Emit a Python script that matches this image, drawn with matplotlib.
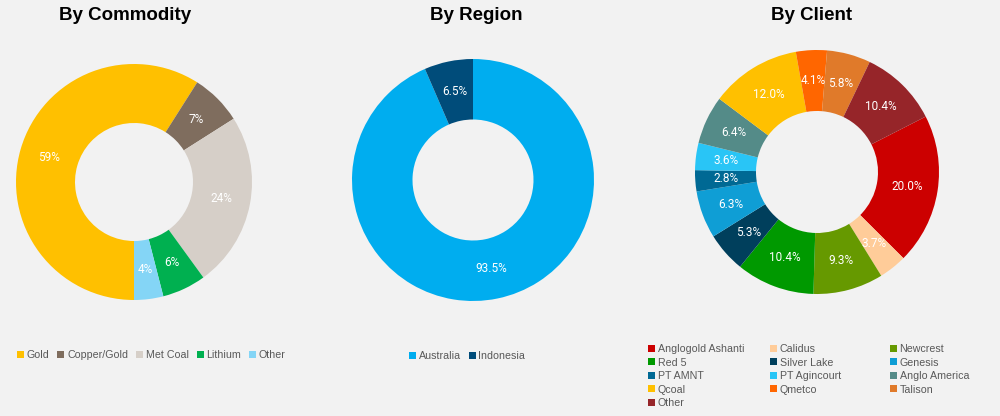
import matplotlib.pyplot as plt
from matplotlib.patches import Patch

# data
commodity_labels = ['Gold', 'Copper/Gold', 'Met Coal', 'Lithium', 'Other']
commodity_values = [59, 7, 24, 6, 4]
commodity_colors = ['#FFC000', '#7F6D5E', '#D6CFC8', '#00B050', '#84D5F6']

region_labels = ['Australia', 'Indonesia']
region_values = [93.5, 6.5]
region_colors = ['#00ADEF', '#004C7A']

client_labels = ['Anglogold Ashanti', 'Calidus', 'Newcrest', 'Red 5', 'Silver Lake',
                 'Genesis', 'PT AMNT', 'PT Agincourt', 'Anglo America', 'Qcoal',
                 'Qmetco', 'Talison', 'Other']
client_values = [20.0, 3.7, 9.3, 10.4, 5.3, 6.3, 2.8, 3.6, 6.4, 12.0, 4.1, 5.8, 10.4]
client_colors = ['#CC0000', '#FFCC99', '#669900', '#009900', '#003F5C', '#0F9ED5',
                 '#006994', '#29C5F6', '#548B88', '#FFC000', '#FF6600', '#E07A2A',
                 '#962529']

W, H = 1000, 416
bg = '#F2F2F2'
txt = '#595959'
plt.rcParams['font.family'] = ['Liberation Sans', 'DejaVu Sans']

fig = plt.figure(figsize=(W / 100, H / 100), dpi=100, facecolor=bg)


def donut(cx, cy, r, values, colors, start, fmt):
    ax = fig.add_axes([(cx - r) / W, (H - cy - r) / H, 2 * r / W, 2 * r / H])
    ax.set_facecolor(bg)
    ax.pie(values, colors=colors, startangle=start, counterclock=False,
           radius=1, autopct=fmt, pctdistance=0.75,
           wedgeprops=dict(width=0.5, edgecolor='none'),
           textprops=dict(color='white', fontsize=8.5, family='Roboto'))
    ax.set_xlim(-1, 1)
    ax.set_ylim(-1, 1)
    ax.set_aspect('equal')
    ax.axis('off')
    return ax


donut(134, 182, 118, commodity_values, commodity_colors, -90, '%.0f%%')
donut(473, 180, 121, region_values, region_colors, 90, '%.1f%%')
donut(817, 172, 122, client_values, client_colors, 27, '%.1f%%')

for x, t in [(125, 'By Commodity'), (476, 'By Region'), (812, 'By Client')]:
    fig.text(x / W, 1 - 15 / H, t, ha='center', va='center',
             fontsize=13.5, fontweight='bold', color='black')


def legend(labels, colors, x, y, ncol=1, colsp=0.9):
    handles = [Patch(facecolor=c, edgecolor='none') for c in colors]
    fig.legend(handles, labels, loc='upper left',
               bbox_to_anchor=(x / W, 1 - y / H), ncol=ncol, frameon=False,
               fontsize=7.7, labelcolor=txt, handlelength=0.65, handleheight=0.65,
               handletextpad=0.25, columnspacing=colsp, labelspacing=0.33,
               borderpad=0, borderaxespad=0)


legend(commodity_labels, commodity_colors, 17, 350, ncol=5, colsp=0.75)
legend(region_labels, region_colors, 409, 351, ncol=2, colsp=0.75)

cols = [[0, 3, 6, 9, 12], [1, 4, 7, 10], [2, 5, 8, 11]]
for xpos, idx in zip([648, 770, 890], cols):
    legend([client_labels[i] for i in idx], [client_colors[i] for i in idx],
           xpos, 344)

fig.savefig('out.png', dpi=100, facecolor=bg)
